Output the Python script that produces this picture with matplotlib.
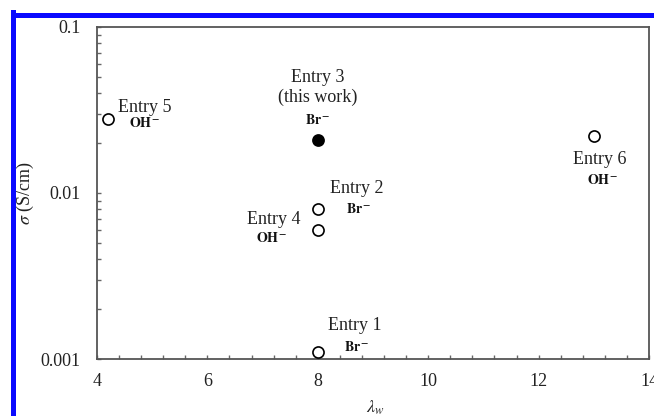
import matplotlib
matplotlib.use('Agg')
import matplotlib.pyplot as plt
from matplotlib.lines import Line2D
from matplotlib.ticker import FixedLocator, MultipleLocator, LogLocator, NullFormatter

plt.rcParams['font.family'] = ['Liberation Serif', 'DejaVu Serif']
plt.rcParams['mathtext.fontset'] = 'stix'

# values
lam = [8.0, 8.0, 8.0, 8.0, 4.2, 13.0]
sigma = [0.0011, 0.008, 0.021, 0.006, 0.028, 0.022]
names = ['Entry 1', 'Entry 2', 'Entry 3\n(this work)', 'Entry 4', 'Entry 5', 'Entry 6']
ions = ['Br', 'Br', 'Br', 'OH', 'OH', 'OH']
filled = [False, False, True, False, False, False]

# label offsets in pixels from each point (name, ion)
name_off = [(37, 27), (39, 21), (0, 52), (-44, 10), (37, 11), (6, -23)]
ion_off = [(39, 5), (41, 0), (0, 20), (-46, -8), (37, -4), (9, -44)]

fig = plt.figure(figsize=(6.54, 4.16), dpi=100)
ax = fig.add_axes([97/654, 57/416, 552/654, 332/416])

for x, y, f in zip(lam, sigma, filled):
    ax.plot(x, y, 'o', ms=8, mew=1.2, mec='black',
            mfc='black' if f else 'white', zorder=3)

for x, y, n, ion, no, io in zip(lam, sigma, names, ions, name_off, ion_off):
    ax.annotate(n, (x, y), xytext=no, textcoords='offset pixels',
                ha='center', va='center', fontsize=13, color='#222222',
                linespacing=1.15)
    ax.annotate(r'$\mathbf{' + ion + r'}^{\,\mathbf{-}}$', (x, y), xytext=io,
                textcoords='offset pixels', ha='center', va='center',
                fontsize=10, color='#111111')

ax.set_yscale('log')
ax.set_xlim(4, 14)
ax.set_ylim(0.001, 0.1)
ax.xaxis.set_major_locator(FixedLocator([4, 6, 8, 10, 12, 14]))
ax.xaxis.set_minor_locator(MultipleLocator(0.4))
ax.yaxis.set_major_locator(FixedLocator([0.001, 0.01, 0.1]))
ax.yaxis.set_minor_locator(LogLocator(base=10, subs=range(2, 10)))
ax.yaxis.set_minor_formatter(NullFormatter())
ax.set_yticklabels(['0.001', '0.01', '0.1'])

ax.tick_params(which='both', direction='in', length=3, width=1,
               color='#666666', labelsize=13, labelcolor='#222222')
ax.tick_params(axis='y', pad=12)
ax.tick_params(axis='x', pad=10)
for s in ax.spines.values():
    s.set_color('#555555')
    s.set_linewidth(1.3)

ax.set_xlabel(r'$\lambda_w$', fontsize=13, color='#222222')
ax.set_ylabel(r'$\sigma$ (S/cm)', fontsize=13, color='#222222')
ax.xaxis.label.set_va('center')
ax.yaxis.label.set_va('center')
ax.xaxis.set_label_coords(0.504, -0.148)
ax.yaxis.set_label_coords(-0.13, 0.5)

# blue frame at top and left edge
fig.add_artist(Line2D([12.5/654, 1], [1 - 14.5/416] * 2, color='#0a0aff', lw=3.6,
                      transform=fig.transFigure))
fig.add_artist(Line2D([12.5/654] * 2, [0, 1 - 12/416], color='#0a0aff', lw=3.6,
                      transform=fig.transFigure))

fig.savefig('out.png', dpi=100)
